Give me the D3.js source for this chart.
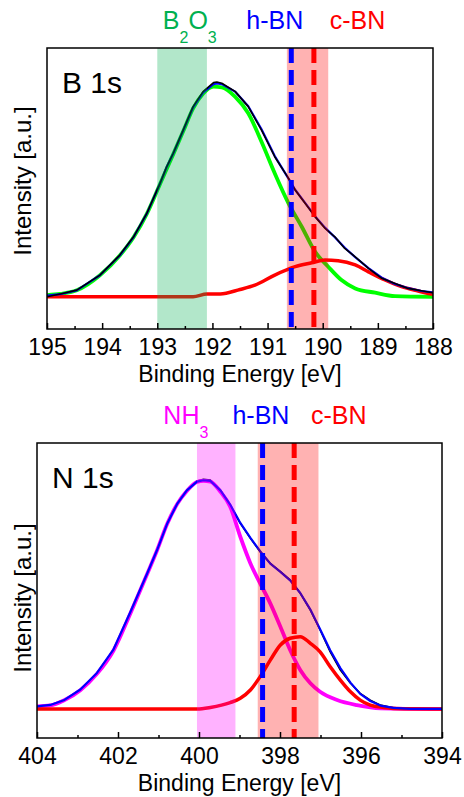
<!DOCTYPE html>
<html>
<head>
<meta charset="utf-8">
<script src="https://cdn.jsdelivr.net/npm/d3@7"></script>
<style>
  body { margin: 0; background: #fff; }
  svg { display: block; }
</style>
</head>
<body>
<div id="chart"></div>
<script>
// B 1s : measured spectrum and fit envelope share one energy grid
const b1sEnergy = [195.0, 194.76, 194.46, 194.04, 193.68, 193.43, 193.19, 192.95, 192.83, 192.71, 192.53, 192.35, 192.17, 191.98, 191.92, 191.83, 191.59, 191.35, 191.11, 190.87, 190.62, 190.50, 190.32, 190.14, 189.96, 189.78, 189.60, 189.41, 189.17, 188.93, 188.69, 188.45, 188.21, 188.0];
const b1sRaw = [0.0, 0.013, 0.031, 0.101, 0.194, 0.279, 0.388, 0.528, 0.605, 0.668, 0.776, 0.885, 0.955, 0.997, 1.0, 0.994, 0.956, 0.885, 0.776, 0.652, 0.551, 0.497, 0.435, 0.373, 0.319, 0.279, 0.225, 0.186, 0.132, 0.086, 0.062, 0.039, 0.028, 0.019];
const b1sFit = [0.005, 0.012, 0.030, 0.100, 0.192, 0.278, 0.387, 0.527, 0.604, 0.667, 0.774, 0.882, 0.950, 0.990, 0.993, 0.990, 0.955, 0.887, 0.780, 0.655, 0.550, 0.498, 0.437, 0.375, 0.322, 0.277, 0.228, 0.184, 0.133, 0.089, 0.060, 0.040, 0.027, 0.020];
const b2o3Energy = [195.0, 194.76, 194.46, 194.04, 193.68, 193.43, 193.19, 192.95, 192.71, 192.53, 192.35, 192.17, 191.98, 191.83, 191.59, 191.35, 191.11, 190.87, 190.62, 190.38, 190.14, 189.90, 189.66, 189.41, 189.05, 188.69, 188.0];
const b2o3Comp = [0.008, 0.013, 0.030, 0.100, 0.192, 0.277, 0.386, 0.525, 0.664, 0.770, 0.877, 0.945, 0.978, 0.975, 0.932, 0.854, 0.722, 0.575, 0.435, 0.326, 0.210, 0.140, 0.078, 0.039, 0.019, 0.003, 0.0];
const b1sCbnEnergy = [195.0, 192.35, 192.10, 191.86, 191.50, 191.23, 190.87, 190.50, 190.20, 189.96, 189.72, 189.41, 189.17, 188.87, 188.57, 188.27, 188.0];
const b1sCbnComp = [0.0, 0.0, 0.013, 0.013, 0.034, 0.054, 0.101, 0.140, 0.158, 0.171, 0.168, 0.148, 0.116, 0.078, 0.047, 0.027, 0.011];
const b1sTicks = [195, 194, 193, 192, 191, 190, 189, 188];
const b1sBands = {oxide: [193.0, 192.1], cbn: [190.65, 189.9]};
const b1sPeaks = {hbn: 190.57, cbn: 190.16};

// N 1s
const n1sEnergy = [404.0, 403.67, 403.34, 402.93, 402.52, 402.11, 401.70, 401.28, 401.04, 400.79, 400.54, 400.30, 400.05, 399.89, 399.72, 399.47, 399.23, 398.98, 398.73, 398.49, 398.24, 397.99, 397.75, 397.50, 397.25, 397.01, 396.76, 396.51, 396.26, 396.02, 395.77, 395.52, 395.20, 394.78, 394.0];
const n1sRaw = [0.013, 0.017, 0.039, 0.083, 0.155, 0.257, 0.417, 0.591, 0.692, 0.808, 0.896, 0.953, 0.993, 1.0, 0.997, 0.953, 0.888, 0.808, 0.743, 0.685, 0.634, 0.598, 0.562, 0.504, 0.431, 0.344, 0.249, 0.170, 0.112, 0.068, 0.039, 0.017, 0.006, 0.001, 0.001];
const n1sFit = [0.012, 0.018, 0.038, 0.085, 0.157, 0.260, 0.420, 0.590, 0.690, 0.805, 0.893, 0.952, 0.990, 0.996, 0.993, 0.952, 0.890, 0.810, 0.745, 0.687, 0.633, 0.597, 0.560, 0.505, 0.433, 0.347, 0.256, 0.178, 0.115, 0.066, 0.035, 0.015, 0.005, 0.001, 0.001];
const nh3Energy = [404.0, 403.67, 403.34, 402.93, 402.52, 402.11, 401.70, 401.28, 401.04, 400.79, 400.54, 400.30, 400.05, 399.89, 399.72, 399.47, 399.23, 398.98, 398.73, 398.49, 398.24, 397.99, 397.75, 397.50, 397.25, 397.01, 396.59, 396.10, 395.52, 394.0];
const nh3Comp = [0.012, 0.016, 0.037, 0.082, 0.153, 0.255, 0.414, 0.588, 0.689, 0.804, 0.892, 0.949, 0.988, 0.993, 0.990, 0.945, 0.881, 0.750, 0.634, 0.547, 0.460, 0.358, 0.257, 0.170, 0.112, 0.075, 0.039, 0.017, 0.003, 0.0];
const n1sCbnEnergy = [404.0, 400.05, 399.72, 399.23, 398.98, 398.73, 398.49, 398.24, 397.99, 397.75, 397.50, 397.25, 397.01, 396.76, 396.51, 396.26, 396.02, 395.77, 395.44, 394.95, 394.0];
const n1sCbnComp = [0.0, 0.0, 0.007, 0.028, 0.047, 0.083, 0.141, 0.213, 0.279, 0.308, 0.315, 0.286, 0.249, 0.184, 0.126, 0.075, 0.039, 0.017, 0.007, 0.001, 0.0];
const n1sTicks = [404, 402, 400, 398, 396, 394];
const n1sBands = {nh3: [400.05, 399.1], cbn: [398.55, 397.05]};
const n1sPeaks = {hbn: 398.43, cbn: 397.65};

const W = 464, H = 797;
const FONT = "'Liberation Sans', Arial, Helvetica, sans-serif";
const GREEN = "#00ff00", OXIDE = "rgb(0,176,80)", RED = "#ff0000", BLUE = "#0000ff", MAGENTA = "#ff00ff";

const svg = d3.select("#chart").append("svg")
  .attr("width", W).attr("height", H)
  .style("font-family", FONT);

const zip = (xs, ys) => xs.map((e, i) => [e, ys[i]]);

const drawPanel = (cfg) => {
  const x = d3.scaleLinear().domain(cfg.xDomain).range([cfg.left, cfg.right]);
  const y = d3.scaleLinear().domain(cfg.yDomain).range([cfg.bottom, cfg.top]);
  const g = svg.append("g");

  g.append("clipPath").attr("id", cfg.id + "-clip")
    .append("rect")
    .attr("x", cfg.left).attr("y", cfg.top)
    .attr("width", cfg.right - cfg.left).attr("height", cfg.bottom - cfg.top);

  const plot = g.append("g").attr("clip-path", `url(#${cfg.id}-clip)`);
  const line = d3.line().x(d => x(d[0])).y(d => y(d[1]));
  const smooth = d3.line().x(d => x(d[0])).y(d => y(d[1])).curve(d3.curveMonotoneX);

  cfg.series.forEach(s => {
    plot.append("path")
      .datum(s.data)
      .attr("fill", "none")
      .attr("stroke", s.color)
      .attr("stroke-width", s.width)
      .attr("stroke-linejoin", "round")
      .attr("d", s.smooth ? smooth : line);
  });

  // shaded ranges sit over the curves
  cfg.bands.forEach(b => {
    plot.append("rect")
      .attr("x", x(b.range[0]))
      .attr("width", x(b.range[1]) - x(b.range[0]))
      .attr("y", cfg.top).attr("height", cfg.bottom - cfg.top)
      .attr("fill", b.color).attr("fill-opacity", 0.3);
  });

  cfg.peaks.forEach(p => {
    plot.append("line")
      .attr("x1", x(p.energy)).attr("x2", x(p.energy))
      .attr("y1", cfg.top).attr("y2", cfg.bottom)
      .attr("stroke", p.color).attr("stroke-width", 5)
      .attr("stroke-dasharray", "15,7");
  });

  g.append("rect")
    .attr("x", cfg.left).attr("y", cfg.top)
    .attr("width", cfg.right - cfg.left).attr("height", cfg.bottom - cfg.top)
    .attr("fill", "none").attr("stroke", "#000").attr("stroke-width", 1.5);

  const minor = g.append("g")
    .attr("transform", `translate(0,${cfg.bottom})`)
    .call(d3.axisBottom(x).tickValues(cfg.minorTicks).tickSize(-3).tickFormat(""));
  minor.select(".domain").remove();
  minor.selectAll("line").attr("stroke-width", 1.5);

  const major = g.append("g")
    .attr("transform", `translate(0,${cfg.bottom})`)
    .call(d3.axisBottom(x).tickValues(cfg.ticks).tickSizeInner(-6).tickSizeOuter(0)
      .tickPadding(10).tickFormat(d3.format("d")));
  major.select(".domain").remove();
  major.selectAll("line").attr("stroke-width", 1.5);
  major.attr("font-family", FONT).attr("font-size", 23);
  major.selectAll("text").attr("fill", "#000");

  g.append("text")
    .attr("x", (cfg.left + cfg.right) / 2).attr("y", cfg.bottom + 53)
    .attr("text-anchor", "middle").attr("font-size", 23)
    .text("Binding Energy [eV]");

  g.append("text")
    .attr("transform", `translate(31,${cfg.yLabelAt}) rotate(-90)`)
    .attr("text-anchor", "middle").attr("font-size", 24)
    .text("Intensity [a.u.]");

  g.append("text")
    .attr("x", cfg.left + 15).attr("y", cfg.top + 45)
    .attr("font-size", 30)
    .text(cfg.core);

  cfg.labels.forEach(l => {
    const t = g.append("text")
      .attr("x", x(l.energy)).attr("y", cfg.top - 19)
      .attr("text-anchor", l.anchor)
      .attr("font-size", 25)
      .attr("fill", l.color);
    l.parts.forEach(p => {
      t.append("tspan")
        .attr("font-size", p.sub ? 16 : 25)
        .attr("dy", p.dy || 0)
        .text(p.text);
    });
  });
};

drawPanel({
  id: "b1s", core: "B 1s",
  left: 47, right: 433, top: 48, bottom: 329, yLabelAt: 181,
  xDomain: [195, 188], yDomain: [-0.150, 1.158],
  ticks: b1sTicks,
  minorTicks: d3.range(188.5, 195, 1),
  series: [
    {data: zip(b2o3Energy, b2o3Comp), color: GREEN, width: 3.8, smooth: true},
    {data: zip(b1sCbnEnergy, b1sCbnComp), color: RED, width: 3.5, smooth: true},
    {data: zip(b1sEnergy, b1sFit), color: BLUE, width: 2.2},
    {data: zip(b1sEnergy, b1sRaw), color: "#000", width: 1.6}
  ],
  bands: [
    {range: b1sBands.oxide, color: OXIDE},
    {range: b1sBands.cbn, color: RED}
  ],
  peaks: [
    {energy: b1sPeaks.hbn, color: BLUE},
    {energy: b1sPeaks.cbn, color: RED}
  ],
  labels: [
    {energy: 192.9, anchor: "start", color: OXIDE, parts: [
      {text: "B"}, {text: "2", sub: true, dy: 14}, {text: "O", dy: -14}, {text: "3", sub: true, dy: 14}]},
    {energy: 190.87, anchor: "middle", color: BLUE, parts: [{text: "h-BN"}]},
    {energy: 189.37, anchor: "middle", color: RED, parts: [{text: "c-BN"}]}
  ]
});

drawPanel({
  id: "n1s", core: "N 1s",
  left: 37, right: 442, top: 443, bottom: 738, yLabelAt: 598,
  xDomain: [404, 394], yDomain: [-0.126, 1.158],
  ticks: n1sTicks,
  minorTicks: d3.range(395, 404, 2),
  series: [
    {data: zip(n1sEnergy, n1sRaw), color: "#000", width: 1.6},
    {data: zip(nh3Energy, nh3Comp), color: MAGENTA, width: 3.8, smooth: true},
    {data: zip(n1sCbnEnergy, n1sCbnComp), color: RED, width: 3.5, smooth: true},
    {data: zip(n1sEnergy, n1sFit), color: BLUE, width: 2.2}
  ],
  bands: [
    {range: n1sBands.nh3, color: MAGENTA},
    {range: n1sBands.cbn, color: RED}
  ],
  peaks: [
    {energy: n1sPeaks.hbn, color: BLUE},
    {energy: n1sPeaks.cbn, color: RED}
  ],
  labels: [
    {energy: 400.88, anchor: "start", color: MAGENTA, parts: [
      {text: "NH"}, {text: "3", sub: true, dy: 14}]},
    {energy: 398.47, anchor: "middle", color: BLUE, parts: [{text: "h-BN"}]},
    {energy: 396.55, anchor: "middle", color: RED, parts: [{text: "c-BN"}]}
  ]
});
</script>
</body>
</html>
